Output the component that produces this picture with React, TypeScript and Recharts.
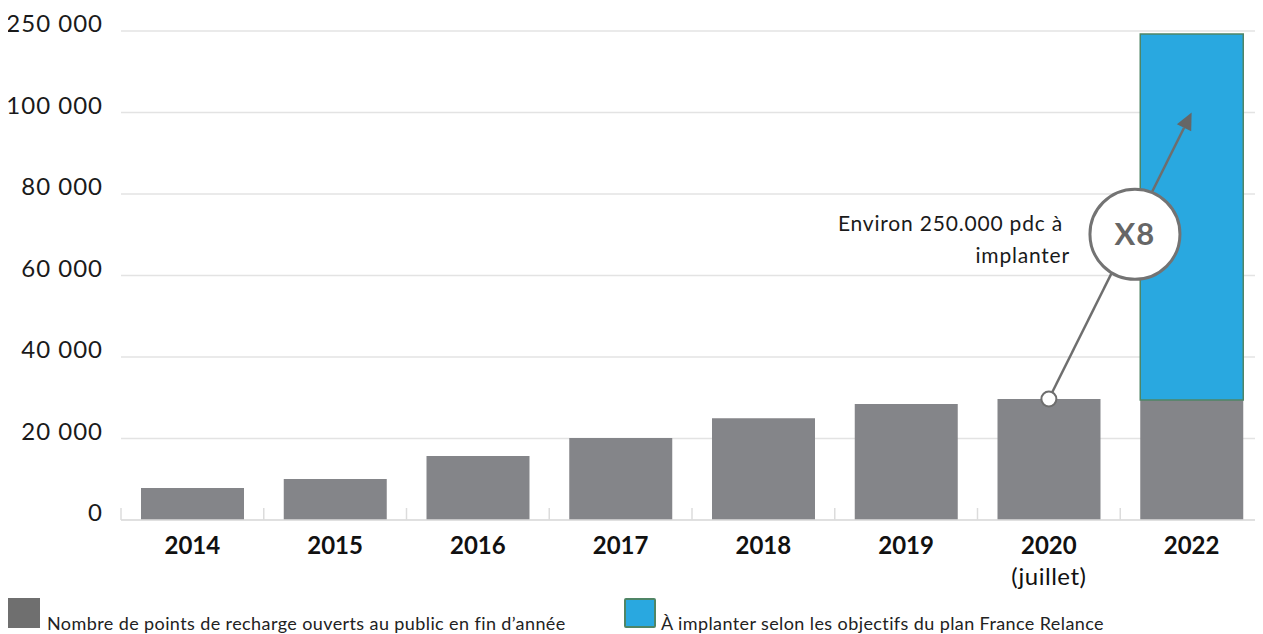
import React from 'react';
import { BarChart, Bar, XAxis, YAxis, CartesianGrid, ReferenceLine } from 'recharts';

const years = ['2014', '2015', '2016', '2017', '2018', '2019', '2020', '2022'];
const yearNotes = ['', '', '', '', '', '', '(juillet)', ''];
const openPoints = [7850, 10050, 15700, 20100, 25000, 28450, 29700, 29450];
const toInstall = [null, null, null, null, null, null, null, 89800];
const yTicks = [0, 20000, 40000, 60000, 80000, 100000, 120000];
// axis is cut at the top: last tick stands for 250 000
const yTickLabels = ['0', '20 000', '40 000', '60 000', '80 000', '100 000', '250 000'];
const arrowFrom = { x: '2020', y: 29700 };
const arrowTo = { x: '2022', y: 100000 };
const multiplier = 'X8';
const noteLines = ['Environ 250.000 pdc à', 'implanter'];
const legendLabels = [
  'Nombre de points de recharge ouverts au public en fin d’année',
  'À implanter selon les objectifs du plan France Relance',
];

const W = 1263;
const H = 634;
const Y_AXIS_W = 121;
const STEP = (W - Y_AXIS_W) / years.length;
const FONT = 'Lato, "Open Sans", sans-serif';

const data = years.map((year, i) => ({
  year,
  open: openPoints[i],
  plan: toInstall[i],
}));

const YTick = ({ x, y, payload }: any) => {
  const i = yTicks.indexOf(payload.value);
  return (
    <text x={x} y={y + 1} textAnchor="end" fontSize={24} letterSpacing={1} fill="#1a1a1a" fontFamily={FONT}>
      {yTickLabels[i]}
    </text>
  );
};

const XTick = ({ x, y, payload }: any) => {
  const i = years.indexOf(payload.value);
  const left = x - STEP / 2;
  return (
    <g>
      <line x1={left} x2={left} y1={y - 12} y2={y} stroke="#dcdcdc" strokeWidth={1.5} />
      {i === years.length - 1 && (
        <line x1={x + STEP / 2 - 1} x2={x + STEP / 2 - 1} y1={y - 12} y2={y} stroke="#dcdcdc" strokeWidth={1.5} />
      )}
      <text x={x} y={y + 34} textAnchor="middle" fontSize={24} fontWeight={700} fill="#111" fontFamily={FONT}>
        {payload.value}
      </text>
      {yearNotes[i] && (
        <text x={x} y={y + 65} textAnchor="middle" fontSize={24} letterSpacing={0.5} fill="#111" fontFamily={FONT}>
          {yearNotes[i]}
        </text>
      )}
    </g>
  );
};

const Annotation = (props: any) => {
  const { x1, y1, x2, y2 } = props;
  const ang = Math.atan2(y2 - y1, x2 - x1);
  const head = 17;
  const half = 8;
  const bx = x2 - head * Math.cos(ang);
  const by = y2 - head * Math.sin(ang);
  const px = -Math.sin(ang) * half;
  const py = Math.cos(ang) * half;
  const t = 0.575;
  const cx = x1 + (x2 - x1) * t + 4;
  const cy = y1 + (y2 - y1) * t;
  return (
    <g>
      <line x1={x1} y1={y1} x2={bx} y2={by} stroke="#6e6e6e" strokeWidth={2.5} />
      <polygon points={`${x2},${y2} ${bx + px},${by + py} ${bx - px},${by - py}`} fill="#666" />
      <circle cx={cx} cy={cy} r={45} fill="#fff" stroke="#737373" strokeWidth={3} />
      <text x={cx} y={cy + 11} textAnchor="middle" fontSize={31} fontWeight={700} letterSpacing={1} fill="#666" fontFamily={FONT}>
        {multiplier}
      </text>
      <text x={cx - 72} y={cy - 3} textAnchor="end" fontSize={21} letterSpacing={0.8} fill="#1a1a1a" fontFamily={FONT}>
        {noteLines[0]}
      </text>
      <text x={cx - 65} y={cy + 29} textAnchor="end" fontSize={21} letterSpacing={0.8} fill="#1a1a1a" fontFamily={FONT}>
        {noteLines[1]}
      </text>
      <circle cx={x1} cy={y1} r={7.5} fill="#fff" stroke="#6e6e6e" strokeWidth={2} />
    </g>
  );
};

const App: React.FC = () => {
  return (
    <div
      style={{
        position: 'relative',
        width: W,
        height: H,
        marginLeft: -8,
        marginTop: -8,
        background: '#fff',
        fontFamily: FONT,
      }}
    >
      <BarChart width={W} height={H} data={data} margin={{ top: 31, right: 0, left: 0, bottom: 44 }}>
        <CartesianGrid horizontal vertical={false} stroke="#e3e3e3" strokeWidth={1.5} />
        <XAxis
          dataKey="year"
          height={70}
          axisLine={{ stroke: '#dcdcdc', strokeWidth: 1.5 }}
          tickLine={false}
          tickSize={0}
          tickMargin={0}
          interval={0}
          tick={<XTick />}
        />
        <YAxis
          width={Y_AXIS_W}
          domain={[0, 120000]}
          ticks={yTicks}
          axisLine={false}
          tickLine={false}
          tickSize={0}
          tickMargin={18}
          interval={0}
          tick={<YTick />}
        />
        <Bar dataKey="open" stackId="a" fill="#848589" barSize={103} isAnimationActive={false} />
        <Bar dataKey="plan" stackId="a" fill="#29a8e0" stroke="#4f8566" strokeWidth={1.5} barSize={103} isAnimationActive={false} />
        <ReferenceLine segment={[arrowFrom, arrowTo]} ifOverflow="visible" shape={<Annotation />} />
      </BarChart>
      <div style={{ position: 'absolute', left: 8, top: 598, width: 32, height: 30, background: '#6f6f6f' }} />
      <div style={{ position: 'absolute', left: 47, top: 613, fontSize: 18, letterSpacing: 0.4, lineHeight: '20px', color: '#222' }}>
        {legendLabels[0]}
      </div>
      <div
        style={{
          position: 'absolute',
          left: 624,
          top: 598,
          width: 28,
          height: 26,
          background: '#29a8e0',
          border: '2px solid #4f8566',
          borderRadius: 2,
        }}
      />
      <div style={{ position: 'absolute', left: 661, top: 613, fontSize: 18, letterSpacing: 0.4, lineHeight: '20px', color: '#222' }}>
        {legendLabels[1]}
      </div>
    </div>
  );
};

export default App;
